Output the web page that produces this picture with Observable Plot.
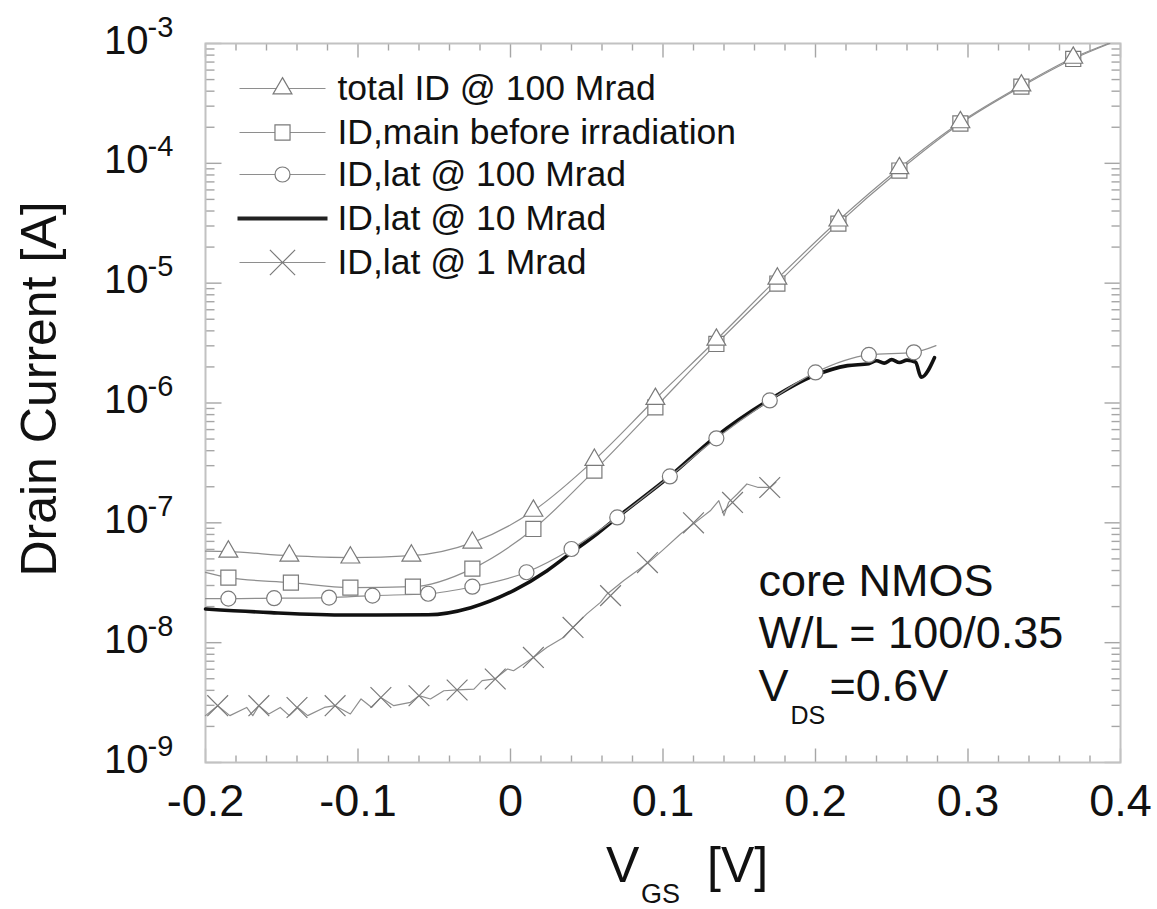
<!DOCTYPE html>
<html><head><meta charset="utf-8">
<script src="https://cdn.jsdelivr.net/npm/d3@7"></script>
<script src="https://cdn.jsdelivr.net/npm/@observablehq/plot@0.6"></script>
<style>
html,body{margin:0;padding:0;background:#fff;}
#chart svg{display:block;}
</style>
</head><body><div id="chart"></div>
<script>
// ---- axis ticks and labels ----
const xMajor = [-0.2, -0.1, 0, 0.1, 0.2, 0.3, 0.4];
const xTickLabels = ["-0.2", "-0.1", "0", "0.1", "0.2", "0.3", "0.4"];
const xMinor = [-0.18, -0.16, -0.14, -0.12, -0.08, -0.06, -0.04, -0.02, 0.02, 0.04, 0.06, 0.08,
                0.12, 0.14, 0.16, 0.18, 0.22, 0.24, 0.26, 0.28, 0.32, 0.34, 0.36, 0.38];
const yExponents = [-9, -8, -7, -6, -5, -4, -3];
const yExpLabels = ["-9", "-8", "-7", "-6", "-5", "-4", "-3"];
const yMinorMultipliers = [2, 3, 4, 5, 6, 7, 8, 9];

// ---- series: total ID @ 100 Mrad (triangles) ----
const totalV = [-0.2, -0.185, -0.145, -0.105, -0.065, -0.025, 0.015, 0.055, 0.095, 0.135, 0.175, 0.215, 0.255, 0.295, 0.335, 0.369, 0.392];
const totalI = [5.8e-8, 5.75e-8, 5.32e-8, 5.13e-8, 5.32e-8, 6.84e-8, 1.26e-7, 3.35e-7, 1.08e-6, 3.37e-6, 1.09e-5, 3.33e-5, 9.10e-5, 2.20e-4, 4.46e-4, 7.60e-4, 1.0e-3];

// ---- series: ID,main before irradiation (squares) ----
const mainV = [-0.2, -0.185, -0.144, -0.105, -0.064, -0.025, 0.015, 0.055, 0.095, 0.135, 0.175, 0.215, 0.255, 0.295, 0.335, 0.369, 0.393];
const mainI = [3.86e-8, 3.49e-8, 3.17e-8, 2.88e-8, 2.93e-8, 4.15e-8, 8.89e-8, 2.73e-7, 9.20e-7, 3.11e-6, 9.93e-6, 3.14e-5, 8.71e-5, 2.15e-4, 4.37e-4, 7.43e-4, 1.0e-3];

// ---- series: ID,lat @ 100 Mrad (circles) ----
const lat100V = [-0.2, -0.185, -0.155, -0.119, -0.0905, -0.054, -0.025, 0.0105, 0.040, 0.070, 0.1045, 0.135, 0.170, 0.200, 0.235, 0.2645, 0.279];
const lat100I = [2.33e-8, 2.33e-8, 2.35e-8, 2.38e-8, 2.47e-8, 2.56e-8, 2.93e-8, 3.87e-8, 6.05e-8, 1.11e-7, 2.44e-7, 5.07e-7, 1.05e-6, 1.80e-6, 2.52e-6, 2.65e-6, 3.01e-6];

// ---- series: ID,lat @ 10 Mrad (thick line) ----
const lat10V = [-0.2, -0.157, -0.107, -0.054, -0.026, 0.002, 0.024, 0.039, 0.057, 0.070, 0.105, 0.134, 0.169, 0.199, 0.221, 0.235, 0.240, 0.245, 0.250, 0.255, 0.260, 0.2656, 0.2693, 0.278];
const lat10I = [1.91e-8, 1.78e-8, 1.70e-8, 1.71e-8, 1.96e-8, 2.72e-8, 3.99e-8, 5.53e-8, 8.13e-8, 1.11e-7, 2.48e-7, 5.17e-7, 1.05e-6, 1.69e-6, 2.05e-6, 2.13e-6, 2.25e-6, 2.15e-6, 2.30e-6, 2.18e-6, 2.28e-6, 2.19e-6, 1.64e-6, 2.39e-6];

// ---- series: ID,lat @ 1 Mrad (crosses) ----
const lat1V = [-0.2, -0.192, -0.184, -0.173, -0.169, -0.165, -0.1585, -0.151, -0.145, -0.1395, -0.133, -0.122, -0.115, -0.105, -0.098, -0.091, -0.085, -0.0765, -0.0656, -0.060, -0.0525, -0.0437, -0.0346, -0.024, -0.0186, -0.0103, -0.002, 0.002, 0.015, 0.024, 0.035, 0.041, 0.050, 0.059, 0.0634, 0.0743, 0.0907, 0.0995, 0.1115, 0.120, 0.131, 0.1366, 0.140, 0.143, 0.1487, 0.155, 0.162, 0.1705, 0.174];
const lat1I = [2.46e-9, 2.98e-9, 2.46e-9, 2.88e-9, 2.46e-9, 2.98e-9, 2.54e-9, 2.88e-9, 2.46e-9, 2.88e-9, 2.46e-9, 2.88e-9, 2.98e-9, 2.54e-9, 3.39e-9, 2.88e-9, 3.49e-9, 2.98e-9, 3.18e-9, 3.61e-9, 3.39e-9, 3.97e-9, 4.03e-9, 4.10e-9, 4.82e-9, 4.98e-9, 6.03e-9, 5.83e-9, 7.53e-9, 9.14e-9, 1.11e-8, 1.34e-8, 1.74e-8, 2.17e-8, 2.55e-8, 3.30e-8, 4.68e-8, 5.86e-8, 8.07e-8, 9.8e-8, 1.26e-7, 1.53e-7, 1.15e-7, 1.48e-7, 1.74e-7, 2.11e-7, 1.98e-7, 1.98e-7, 2.18e-7];
const lat1MarkV = [-0.192, -0.165, -0.140, -0.115, -0.085, -0.060, -0.035, -0.010, 0.015, 0.041, 0.0656, 0.0898, 0.120, 0.1456, 0.170];
const lat1MarkI = [2.98e-9, 2.98e-9, 2.88e-9, 2.98e-9, 3.49e-9, 3.61e-9, 4.03e-9, 4.98e-9, 7.53e-9, 1.34e-8, 2.47e-8, 4.66e-8, 1.0e-7, 1.48e-7, 1.97e-7];

// ---- legend & annotation text ----
const legendLabels = ["total ID @ 100 Mrad", "ID,main before irradiation", "ID,lat @ 100 Mrad", "ID,lat @ 10 Mrad", "ID,lat @ 1 Mrad"];
const legendSymbols = ["triangle", "square", "circle", "thick", "times"];
const yTitle = "Drain Current [A]";
const noteLines = ["core NMOS", "W/L = 100/0.35"];

// ---- build ----
const pts = (V, I) => V.map((v, k) => ({v, i: I[k]}));
const total = pts(totalV, totalI);
const main = pts(mainV, mainI);
const lat100 = pts(lat100V, lat100I);
const lat10 = pts(lat10V, lat10I);
const lat1 = pts(lat1V, lat1I);
const lat1Marks = pts(lat1MarkV, lat1MarkI);
const yMajor = yExponents.map(e => Math.pow(10, e));
const yMinor = [];
yExponents.slice(0, -1).forEach(e => yMinorMultipliers.forEach(m => yMinor.push(m * Math.pow(10, e))));

const seg = (dxa, dya, dxb, dyb) => ({draw(ctx) { ctx.moveTo(dxa, dya); ctx.lineTo(dxb, dyb); }});
const lineColor = "#8e8e8e";
const markColor = "#7a7a7a";
const tickColor = "#a6a6a6";
const font = "Liberation Sans, Arial, Helvetica, sans-serif";

const marks = [];
// ticks (inward, mirrored)
const tickDot = (data, opts, sym) => Plot.dot(data, {...opts, symbol: sym, r: 1, fill: "none", stroke: tickColor, strokeWidth: 1.4});
marks.push(tickDot(xMajor, {x: d => d, frameAnchor: "bottom"}, seg(0, 0, 0, -14)));
marks.push(tickDot(xMinor, {x: d => d, frameAnchor: "bottom"}, seg(0, 0, 0, -7)));
marks.push(tickDot(xMajor, {x: d => d, frameAnchor: "top"}, seg(0, 0, 0, 14)));
marks.push(tickDot(xMinor, {x: d => d, frameAnchor: "top"}, seg(0, 0, 0, 7)));
marks.push(tickDot(yMajor, {y: d => d, frameAnchor: "left"}, seg(0, 0, 16, 0)));
marks.push(tickDot(yMinor, {y: d => d, frameAnchor: "left"}, seg(0, 0, 9, 0)));
marks.push(tickDot(yMajor, {y: d => d, frameAnchor: "right"}, seg(0, 0, -16, 0)));
marks.push(tickDot(yMinor, {y: d => d, frameAnchor: "right"}, seg(0, 0, -9, 0)));
marks.push(Plot.frame({stroke: "#c2c2c2", strokeWidth: 2}));

// tick labels
marks.push(Plot.text(xMajor, {x: d => d, frameAnchor: "bottom", text: (d, k) => xTickLabels[k], dy: 53, textAnchor: "middle", lineAnchor: "bottom", fontSize: 45, fill: "#111"}));
marks.push(Plot.text(yMajor, {y: d => d, frameAnchor: "left", text: () => "10", dx: -57, dy: 10, textAnchor: "end", lineAnchor: "bottom", fontSize: 40, fill: "#111"}));
marks.push(Plot.text(yMajor, {y: d => d, frameAnchor: "left", text: (d, k) => yExpLabels[k], dx: -58, dy: -7, textAnchor: "start", lineAnchor: "bottom", fontSize: 29, fill: "#111"}));

// axis titles
marks.push(Plot.text([yTitle], {frameAnchor: "left", text: d => d, rotate: -90, dx: -150, dy: -14, textAnchor: "middle", lineAnchor: "bottom", fontSize: 50, fill: "#111"}));
marks.push(Plot.text(["V"], {frameAnchor: "bottom", text: d => d, dx: -57, dy: 119, textAnchor: "start", lineAnchor: "bottom", fontSize: 50, fill: "#111"}));
marks.push(Plot.text(["GS"], {frameAnchor: "bottom", text: d => d, dx: -22, dy: 140, textAnchor: "start", lineAnchor: "bottom", fontSize: 27, fill: "#111"}));
marks.push(Plot.text(["[V]"], {frameAnchor: "bottom", text: d => d, dx: 44, dy: 119, textAnchor: "start", lineAnchor: "bottom", fontSize: 50, fill: "#111"}));

// data lines
marks.push(Plot.line(lat10, {x: "v", y: "i", stroke: "#111", strokeWidth: 3.6, curve: "monotone-x"}));
marks.push(Plot.line(lat1, {x: "v", y: "i", stroke: lineColor, strokeWidth: 1.2, curve: "linear"}));
marks.push(Plot.line(lat100, {x: "v", y: "i", stroke: lineColor, strokeWidth: 1.2, curve: "monotone-x"}));
marks.push(Plot.line(main, {x: "v", y: "i", stroke: lineColor, strokeWidth: 1.2, curve: "monotone-x"}));
marks.push(Plot.line(total, {x: "v", y: "i", stroke: lineColor, strokeWidth: 1.2, curve: "monotone-x"}));
// markers
marks.push(Plot.dot(lat1Marks, {x: "v", y: "i", symbol: "times", r: 9.5, stroke: markColor, strokeWidth: 1.2}));
marks.push(Plot.dot(lat100.slice(1, -1), {x: "v", y: "i", symbol: "circle", r: 7.5, fill: "white", stroke: markColor, strokeWidth: 1.2}));
marks.push(Plot.dot(main.slice(1, -1), {x: "v", y: "i", symbol: "square", r: 8.5, fill: "white", stroke: markColor, strokeWidth: 1.2}));
marks.push(Plot.dot(total.slice(1, -1), {x: "v", y: "i", symbol: "triangle", r: 7, fill: "white", stroke: markColor, strokeWidth: 1.2}));

// legend (inside top-left of frame)
const legendRowDy = [45, 89, 131, 175, 219];
legendLabels.forEach((label, k) => {
  const dy = legendRowDy[k];
  const thick = legendSymbols[k] === "thick";
  marks.push(Plot.dot([label], {frameAnchor: "top-left", dx: 77, dy, symbol: thick ? seg(-45, 0, 45, 0) : seg(-43, 0, 43, 0), r: 1, fill: "none", stroke: thick ? "#222" : lineColor, strokeWidth: thick ? 4 : 1.2}));
  if (!thick) {
    const opts = {triangle: {r: 7}, square: {r: 8.5}, circle: {r: 7.5}, times: {r: 11.5}}[legendSymbols[k]];
    marks.push(Plot.dot([label], {frameAnchor: "top-left", dx: 77, dy, symbol: legendSymbols[k], r: opts.r, fill: legendSymbols[k] === "times" ? "none" : "white", stroke: markColor, strokeWidth: 1.2}));
  }
  marks.push(Plot.text([label], {frameAnchor: "top-left", dx: 132, dy, text: d => d, textAnchor: "start", lineAnchor: "middle", fontSize: 35.5, fill: "#111"}));
});

// device annotation
marks.push(Plot.text([noteLines[0]], {frameAnchor: "top-left", text: d => d, dx: 553, dy: 552, textAnchor: "start", lineAnchor: "bottom", fontSize: 45, fill: "#111"}));
marks.push(Plot.text([noteLines[1]], {frameAnchor: "top-left", text: d => d, dx: 553, dy: 604, textAnchor: "start", lineAnchor: "bottom", fontSize: 45, fill: "#111"}));
marks.push(Plot.text(["V"], {frameAnchor: "top-left", text: d => d, dx: 553, dy: 657, textAnchor: "start", lineAnchor: "bottom", fontSize: 45, fill: "#111"}));
marks.push(Plot.text(["DS"], {frameAnchor: "top-left", text: d => d, dx: 585, dy: 680, textAnchor: "start", lineAnchor: "bottom", fontSize: 25, fill: "#111"}));
marks.push(Plot.text(["=0.6V"], {frameAnchor: "top-left", text: d => d, dx: 624, dy: 657, textAnchor: "start", lineAnchor: "bottom", fontSize: 45, fill: "#111"}));

const chart = Plot.plot({
  width: 1157,
  height: 909,
  marginLeft: 205,
  marginRight: 37,
  marginTop: 43,
  marginBottom: 147,
  style: {fontFamily: font, background: "#fff", color: "#111"},
  x: {domain: [-0.2, 0.4], axis: null},
  y: {type: "log", domain: [1e-9, 1e-3], axis: null},
  marks
});
document.getElementById("chart").appendChild(chart);
</script>
</body></html>
